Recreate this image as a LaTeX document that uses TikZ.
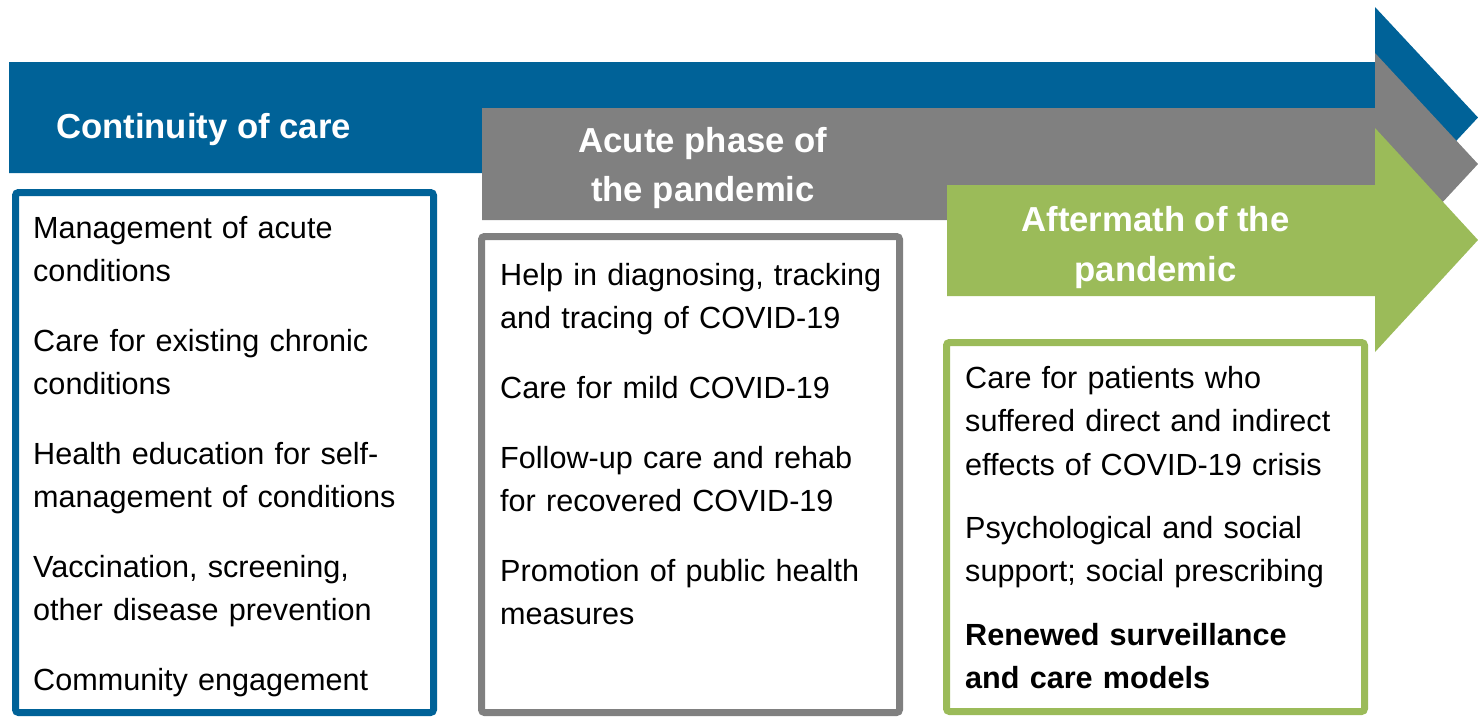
\documentclass[tikz,border=0pt]{standalone}
\usepackage{fontspec}
\setmainfont{Liberation Sans}
\usepackage{tikz}

\definecolor{careblue}{RGB}{0,98,152}
\definecolor{acutegray}{RGB}{128,128,128}
\definecolor{aftergreen}{RGB}{155,187,89}

\newcommand{\bodyfont}{\fontsize{30.6}{43.5}\selectfont}
\newcommand{\titlefont}{\fontsize{34.7}{49.5}\selectfont\bfseries}

\tikzset{
	phasebox/.style={rectangle, rounded corners=3pt, line width=7pt, fill=white, minimum width=418pt, inner sep=0pt},
	phasetitle/.style={text=white, font=\titlefont, align=center, inner sep=0pt},
	item/.style={anchor=north west, inner sep=0pt, text width=400pt, align=left, font=\bodyfont}
}

\begin{document}
\begin{tikzpicture}[x=1pt,y=-1pt]
		\useasboundingbox (0,0) rectangle (1478,716);
		% the three phase arrows
		\fill[careblue] (9,62) -- (1375,62) -- (1375,7) -- (1478,117.5) -- (1375,228) -- (1375,173) -- (9,173) -- cycle;
		\fill[acutegray] (482,108) -- (1375,108) -- (1375,53) -- (1478,164) -- (1375,275) -- (1375,220) -- (482,220) -- cycle;
		\fill[aftergreen] (947,185) -- (1375,185) -- (1375,128) -- (1478,240) -- (1375,352) -- (1375,296) -- (947,296) -- cycle;
		\node[phasetitle, anchor=base] (careTitle) at (203.5,138) {Continuity of care};
		\node[phasetitle, anchor=north] (acuteTitle) at (703,127) {Acute phase of\\the pandemic};
		\node[phasetitle, anchor=north] (afterTitle) at (1155.5,206.5) {Aftermath of the\\pandemic};
		% boxes
		\node[phasebox, draw=careblue, minimum height=520pt] (careBox) at (224.5,452.5) {};
		\node[phasebox, draw=acutegray, minimum height=476pt] (acuteBox) at (690.5,474.5) {};
		\node[phasebox, draw=aftergreen, minimum height=369pt] (afterBox) at (1155.5,527) {};
		\foreach \y/\name/\txt in {
			216/care1/{Management of acute\newline conditions},
			329/care2/{Care for existing chronic\newline conditions},
			442/care3/{Health education for self-\newline management of conditions},
			555/care4/{Vaccination, screening,\newline other disease prevention},
			668/care5/{Community engagement}
		}{
			\node[item] (\name) at (33,\y) {\txt};
		}
		\foreach \y/\name/\txt in {
			263/acute1/{Help in diagnosing, tracking\newline and tracing of COVID-19},
			376/acute2/{Care for mild COVID-19},
			446/acute3/{Follow-up care and rehab\newline for recovered COVID-19},
			559/acute4/{Promotion of public health\newline measures}
		}{
			\node[item] (\name) at (500,\y) {\txt};
		}
		\foreach \y/\name/\txt in {
			366/after1/{Care for patients who\newline suffered direct and indirect\newline effects of COVID-19 crisis},
			516/after2/{Psychological and social\newline support; social prescribing}
		}{
			\node[item] (\name) at (965,\y) {\txt};
		}
		\node[item, font=\bodyfont\bfseries] (after3) at (965,623) {Renewed surveillance\newline and care models};
\end{tikzpicture}
\end{document}
